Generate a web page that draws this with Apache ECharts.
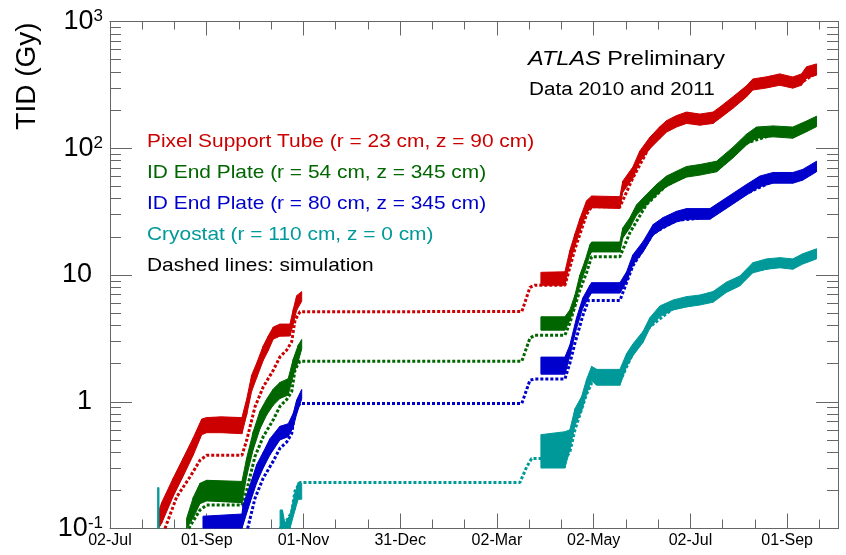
<!DOCTYPE html>
<html lang="en">
<head>
    <meta charset="utf-8">
    <title>TID vs time</title>
    <script src="https://cdn.jsdelivr.net/npm/echarts@6.0.0/dist/echarts.min.js"></script>
</head>
<body style="margin:0">
    <div id="main" style="width: 846px;height:555px;"></div>
    <script>
    // x = days since 02-Jul-2010, y = TID in Gy
    var tickStep = 60.86;
    var xTickLabels = ['02-Jul', '01-Sep', '01-Nov', '31-Dec', '02-Mar', '02-May', '02-Jul', '01-Sep'];
    var yTickLabels = [['10', '-1'], ['1', ''], ['10', ''], ['10', '2'], ['10', '3']];

    var legendLines = [
        'Pixel Support Tube (r = 23 cm, z = 90 cm)',
        'ID End Plate (r = 54 cm, z = 345 cm)',
        'ID End Plate (r = 80 cm, z = 345 cm)',
        'Cryostat (r = 110 cm, z = 0 cm)',
        'Dashed lines: simulation'
    ];

    // measured: [day, low, high]
    var pstMeas2010 = [
        [30.5, 0.1, 0.135], [32.5, 0.11, 0.16], [39.8, 0.18, 0.25], [46.1, 0.26, 0.36],
        [52.4, 0.38, 0.52], [57.7, 0.55, 0.73], [60.8, 0.57, 0.75], [70.0, 0.57, 0.76],
        [83.0, 0.56, 0.75], [86.0, 0.79, 1.05], [89.1, 1.21, 1.62], [92.3, 1.55, 2.02],
        [96.4, 2.12, 2.76], [99.6, 2.54, 3.31], [102.7, 3.12, 3.88], [106.9, 3.29, 4.1],
        [113.2, 3.3, 4.1], [115.3, 4.1, 5.35], [117.4, 5.27, 6.86], [120.6, 6.2, 7.4]
    ];
    var pstMeas2011 = [
        [271.1, 8.3, 10.5], [286.2, 8.3, 10.6], [289.3, 12.4, 15.6], [292.5, 16.9, 21.1],
        [295.6, 22.2, 27.8], [299.8, 31, 38.5], [303.0, 34, 42], [320.8, 33.5, 41.5],
        [322.6, 45, 55], [328.9, 58, 71], [333.3, 78, 95], [339.6, 99, 122],
        [345.9, 119, 148], [350.1, 134, 165], [356.4, 147, 181], [362.7, 157, 193],
        [371.1, 152, 186], [379.4, 157, 193], [383.6, 172, 211], [391.8, 206, 254],
        [400.4, 254, 311], [404.4, 288, 352], [413.0, 299, 366], [421.4, 314, 386],
        [429.6, 298, 365], [435.0, 314, 386], [438.2, 357, 439], [444.5, 377, 463]
    ];
    var idp54Meas2010 = [
        [48.2, 0.1, 0.12], [52.4, 0.122, 0.176], [56.6, 0.157, 0.227], [60.8, 0.165, 0.24],
        [83.0, 0.16, 0.235], [86.0, 0.26, 0.36], [90.1, 0.42, 0.58], [94.3, 0.61, 0.84],
        [98.6, 0.79, 1.05], [102.7, 0.94, 1.26], [106.9, 1.06, 1.42], [112.1, 1.13, 1.52],
        [115.3, 1.62, 2.17], [118.4, 2.08, 2.79], [120.6, 2.6, 3.1]
    ];
    var idp54Meas2011 = [
        [271.1, 3.67, 4.68], [286.2, 3.67, 4.68], [289.3, 4.4, 5.3], [292.5, 5.8, 6.95],
        [295.6, 8.3, 10], [299.0, 11, 13.1], [301.9, 14.4, 17.3], [303.0, 15.2, 18.2],
        [320.8, 15.2, 18.2], [322.6, 19.6, 23.5], [327.0, 23.5, 28.2], [331.3, 29.8, 35.8],
        [337.5, 35.6, 43.2], [343.8, 42.8, 51.8], [350.1, 49.7, 60.3], [356.4, 54.4, 65.9],
        [362.7, 59.2, 71.8], [371.1, 61.4, 74.4], [381.6, 65.2, 79], [391.8, 83.6, 101.5],
        [400.4, 106, 129], [406.7, 120, 147], [417.2, 123, 150], [429.6, 120, 147],
        [438.2, 135, 164], [444.5, 148, 179]
    ];
    var idp80Meas2010 = [
        [58.5, 0.1, 0.125], [83.0, 0.1, 0.13], [83.8, 0.108, 0.155], [88.1, 0.16, 0.22],
        [92.3, 0.23, 0.32], [96.4, 0.3, 0.4], [100.6, 0.38, 0.51], [106.9, 0.5, 0.64],
        [112.1, 0.53, 0.67], [115.3, 0.63, 0.81], [117.4, 0.8, 1.03], [120.6, 1.05, 1.25]
    ];
    var idp80Meas2011 = [
        [271.1, 1.65, 2.25], [286.2, 1.65, 2.25], [289.3, 2.3, 2.8], [293.5, 3.8, 4.6],
        [297.5, 5.5, 6.6], [301.9, 6.9, 8.3], [303.0, 7.2, 8.7], [320.8, 7.2, 8.7],
        [325.0, 8.9, 10.6], [328.9, 12, 14.4], [335.4, 15.2, 18.4], [341.7, 20.6, 25],
        [348.0, 23.4, 28.4], [356.4, 26.2, 31.8], [362.7, 27.5, 33.4], [377.4, 27.5, 33.4],
        [387.9, 33.6, 40.8], [400.4, 42.7, 51.8], [408.8, 49.7, 60.3], [417.2, 53, 64.4],
        [429.6, 53, 64.4], [435.8, 56, 68.1], [444.5, 65.2, 79]
    ];
    var cryoMeasSpike = [[30.0, 0.1, 0.21], [30.8, 0.1, 0.21]];
    var cryoMeas2010 = [
        [107.0, 0.1, 0.14], [108.5, 0.1, 0.14], [110.0, 0.1, 0.11], [113.2, 0.1, 0.127],
        [116.4, 0.14, 0.19], [118.4, 0.17, 0.23], [120.6, 0.17, 0.227]
    ];
    var cryoMeas2011 = [
        [271.1, 0.3, 0.55], [286.2, 0.3, 0.58], [289.3, 0.42, 0.6], [292.5, 0.65, 0.88],
        [296.7, 0.85, 1.1], [299.8, 1.15, 1.5], [303.0, 1.47, 1.9], [306.3, 1.35, 1.8],
        [320.8, 1.35, 1.8], [325.0, 1.9, 2.4], [328.9, 2.3, 2.85], [335.4, 2.95, 3.6],
        [339.6, 3.8, 4.6], [345.9, 4.7, 5.7], [354.3, 5.3, 6.35], [362.7, 5.6, 6.75],
        [371.1, 5.8, 6.95], [379.4, 6.1, 7.4], [387.9, 7.3, 8.8], [396.2, 8.2, 9.8],
        [404.4, 10.4, 12.5], [413.0, 11.1, 13.4], [421.4, 11.4, 13.7], [429.6, 11.1, 13.4],
        [435.8, 12.2, 14.7], [444.5, 13.4, 16.1]
    ];

    // simulation: [day, TID]
    var pstSim = [
        [34.6, 0.1], [41.9, 0.177], [50.3, 0.255], [56.6, 0.345], [60.8, 0.378], [83.0, 0.378],
        [86.0, 0.497], [91.2, 0.91], [96.4, 1.31], [102.7, 1.77], [106.9, 2.26], [111.1, 2.55],
        [114.3, 2.97], [116.4, 4.41], [119.5, 5.13], [259.1, 5.15], [264.2, 8.0], [267.3, 8.3],
        [286.2, 8.3], [292.5, 16], [299.8, 30], [303.0, 34.5], [320.8, 34.5], [328.9, 58],
        [339.6, 104], [350.1, 141], [362.7, 165], [379.4, 165], [391.8, 217], [404.4, 300],
        [421.4, 330], [435.0, 330], [444.5, 395]
    ];
    var idp54Sim = [
        [49.5, 0.1], [56.6, 0.14], [60.8, 0.153], [83.0, 0.153], [86.0, 0.2], [91.2, 0.37],
        [96.4, 0.53], [102.7, 0.72], [106.9, 0.92], [111.1, 1.04], [114.3, 1.2], [116.4, 1.79],
        [119.5, 2.09], [259.1, 2.09], [264.2, 3.18], [267.3, 3.35], [286.2, 3.35], [289.3, 4.17],
        [295.6, 7.6], [299.8, 10.4], [303.0, 13.95], [320.8, 13.95], [327.0, 21.5], [337.5, 36],
        [350.1, 51], [362.7, 61], [381.6, 67], [400.4, 110], [417.2, 128], [429.6, 125], [444.5, 153]
    ];
    var idp80Sim = [
        [86.6, 0.1], [91.2, 0.173], [96.4, 0.25], [102.7, 0.34], [106.9, 0.43], [111.1, 0.48],
        [114.3, 0.56], [116.4, 0.84], [119.5, 0.97], [259.1, 0.97], [264.2, 1.48], [267.3, 1.51],
        [286.2, 1.51], [289.3, 2.01], [292.5, 2.9], [297.5, 4.8], [301.0, 6.3], [320.8, 6.3],
        [328.9, 11.8], [341.7, 21.3], [356.4, 27], [377.4, 28.5], [400.4, 44], [417.2, 55],
        [429.6, 55], [444.5, 67.5]
    ];
    var cryoSim = [
        [107.0, 0.1], [111.1, 0.115], [114.3, 0.134], [116.4, 0.198], [119.5, 0.231],
        [257.9, 0.231], [262.1, 0.305], [265.2, 0.356], [286.2, 0.356], [289.3, 0.4],
        [292.5, 0.6], [299.8, 1.15], [303.0, 1.4], [320.8, 1.45], [328.9, 2.4], [339.6, 3.9],
        [354.3, 5.45], [371.1, 6.0], [387.9, 7.6], [404.4, 10.8], [421.4, 11.8], [444.5, 13.9]
    ];

    var red = '#cc0000', green = '#006600', blue = '#0000cc', cyan = '#009999';
    var frameColor = '#666';
    var fontFamily = '"Liberation Sans", Arial, Helvetica, sans-serif';

    // turn [day, lo, hi] runs into quads for the custom series
    function quads(segments) {
        var out = [];
        segments.forEach(function (seg) {
            for (var i = 0; i < seg.length - 1; i++) {
                out.push([seg[i][0], seg[i][1], seg[i][2], seg[i + 1][0], seg[i + 1][1], seg[i + 1][2]]);
            }
        });
        return out;
    }

    function bandSeries(name, segments, color) {
        return {
            name: name,
            type: 'custom',
            clip: true,
            z: 3,
            encode: {x: 0, y: 1},
            data: quads(segments),
            renderItem: function (params, api) {
                var a = api.coord([api.value(0), api.value(1)]);
                var b = api.coord([api.value(3), api.value(4)]);
                var c = api.coord([api.value(3), api.value(5)]);
                var d = api.coord([api.value(0), api.value(2)]);
                return {
                    type: 'polygon',
                    shape: {points: [a, b, c, d]},
                    style: {fill: color, stroke: color, lineWidth: 1}
                };
            }
        };
    }

    function simSeries(name, data, color) {
        return {
            name: name,
            type: 'line',
            z: 2,
            showSymbol: false,
            data: data,
            lineStyle: {color: color, width: 3, type: [3, 2], cap: 'butt'}
        };
    }

    var minorVals = [];
    [0.1, 1, 10, 100].forEach(function (d) {
        for (var k = 2; k <= 9; k++) minorVals.push(+(d * k).toPrecision(3));
    });

    function xAxisBase(pos, showLabel, majorLen, minorLen) {
        return {
            type: 'value',
            position: pos,
            min: 0,
            max: 458,
            interval: tickStep,
            axisLine: {show: true, onZero: false, lineStyle: {color: frameColor, width: 1}},
            axisTick: {inside: true, length: majorLen, lineStyle: {color: frameColor}},
            minorTick: {show: true, splitNumber: 3, length: minorLen, lineStyle: {color: frameColor}},
            splitLine: {show: false},
            axisLabel: {
                show: showLabel,
                margin: 4,
                fontSize: 16,
                fontFamily: fontFamily,
                color: '#000',
                formatter: function (v) {
                    var i = Math.round(v / tickStep);
                    if (Math.abs(v - i * tickStep) > 1) return '';
                    return xTickLabels[i] || '';
                }
            }
        };
    }

    function yAxisBase(pos, len, custom, showLabel) {
        var ax = {
            type: 'log',
            logBase: 10,
            position: pos,
            min: 0.1,
            max: 1000,
            axisLine: {show: true, onZero: false, lineStyle: {color: frameColor, width: 1}},
            axisTick: {inside: true, length: len, lineStyle: {color: frameColor}},
            splitLine: {show: false},
            axisLabel: {show: false}
        };
        if (custom) ax.axisTick.customValues = custom;
        if (showLabel) {
            ax.axisLabel = {
                show: true,
                margin: 7,
                color: '#000',
                fontFamily: fontFamily,
                formatter: function (v) {
                    var t = yTickLabels[Math.round(Math.log10(v)) + 1];
                    if (!t) return '';
                    return t[1] ? '{b|' + t[0] + '}{s|' + t[1] + '}' : '{b|' + t[0] + '}{sp| }';
                },
                rich: {
                    b: {fontSize: 27, fontFamily: fontFamily, color: '#000'},
                    s: {fontSize: 17, fontFamily: fontFamily, color: '#000', verticalAlign: 'top'},
                    sp: {width: 11, fontSize: 17}
                }
            };
        }
        return ax;
    }

    var legendColors = [red, green, blue, cyan, '#000'];
    var graphics = [{
        type: 'text',
        x: 27,
        y: 76,
        rotation: Math.PI / 2,
        style: {
            text: 'TID (Gy)', fontSize: 28, fontFamily: fontFamily, fill: '#000',
            textAlign: 'center', textVerticalAlign: 'middle'
        }
    }, {
        type: 'text',
        x: 528,
        y: 59,
        scaleX: 1.12,
        style: {
            text: '{i|ATLAS} Preliminary', fontSize: 21, fontFamily: fontFamily, fill: '#000',
            textAlign: 'left', textVerticalAlign: 'middle',
            rich: {i: {fontStyle: 'italic', fontSize: 21, fontFamily: fontFamily, fill: '#000'}}
        }
    }, {
        type: 'text',
        x: 529,
        y: 90,
        scaleX: 1.1,
        style: {
            text: 'Data 2010 and 2011', fontSize: 18.8, fontFamily: fontFamily, fill: '#000',
            textAlign: 'left', textVerticalAlign: 'middle'
        }
    }];
    legendLines.forEach(function (t, i) {
        graphics.push({
            type: 'text',
            x: 147,
            y: 141.5 + i * 31,
            scaleX: 1.1,
            style: {
                text: t, fontSize: 19, fontFamily: fontFamily, fill: legendColors[i],
                textAlign: 'left', textVerticalAlign: 'middle'
            }
        });
    });

    var myChart = echarts.init(document.getElementById('main'));
    var option = {
        animation: false,
        backgroundColor: '#fff',
        grid: {left: 110, right: 8, top: 21.5, bottom: 26.5},
        xAxis: [
            xAxisBase('bottom', true, 15, 9),
            xAxisBase('top', false, 14, 8)
        ],
        yAxis: [
            yAxisBase('left', 22, null, true),
            yAxisBase('left', 11, minorVals, false),
            yAxisBase('right', 22, null, false),
            yAxisBase('right', 11, minorVals, false)
        ],
        graphic: graphics,
        series: [
            simSeries('PST sim', pstSim, red),
            simSeries('IDEP54 sim', idp54Sim, green),
            simSeries('IDEP80 sim', idp80Sim, blue),
            simSeries('Cryostat sim', cryoSim, cyan),
            bandSeries('Pixel Support Tube', [pstMeas2010, pstMeas2011], red),
            bandSeries('ID End Plate r=54', [idp54Meas2010, idp54Meas2011], green),
            bandSeries('ID End Plate r=80', [idp80Meas2010, idp80Meas2011], blue),
            bandSeries('Cryostat', [cryoMeasSpike, cryoMeas2010, cryoMeas2011], cyan)
        ]
    };
    myChart.setOption(option);
    </script>
</body>
</html>
